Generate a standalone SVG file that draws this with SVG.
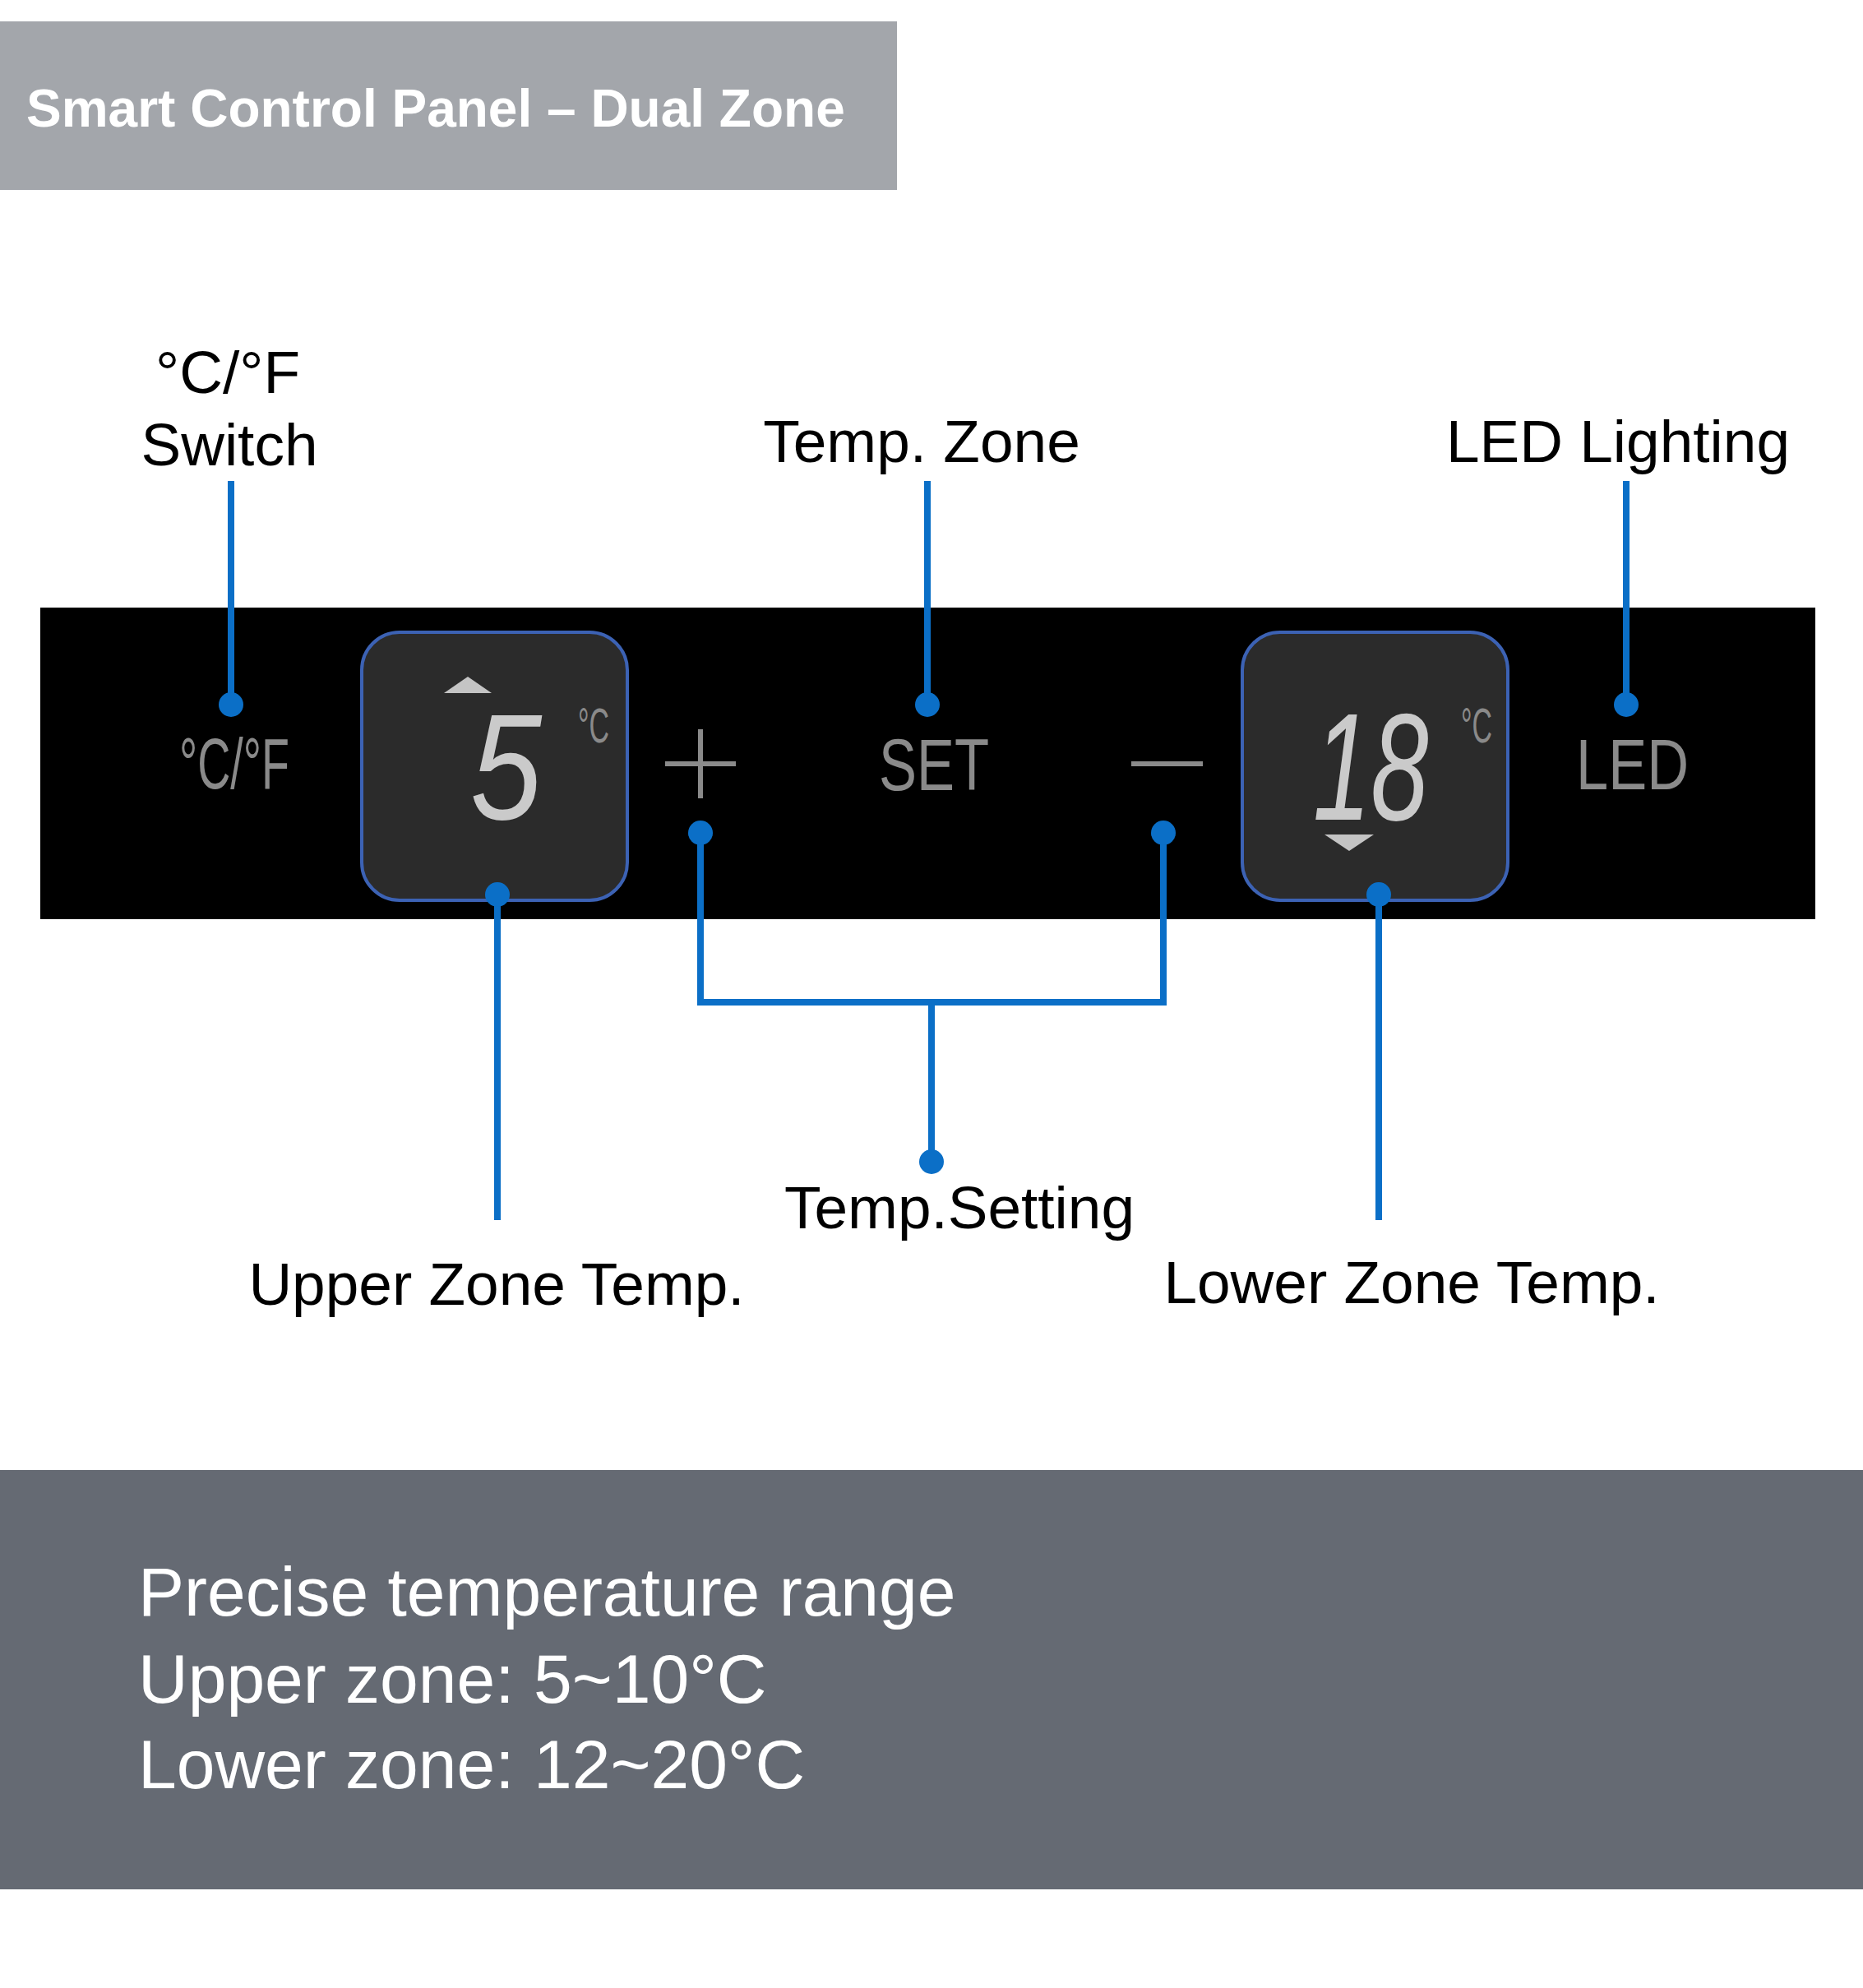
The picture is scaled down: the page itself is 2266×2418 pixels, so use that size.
<svg xmlns="http://www.w3.org/2000/svg" width="2266" height="2418" viewBox="0 0 2266 2418">
  <style>
    .lbl { font-family: "Liberation Sans", Arial, sans-serif; font-size: 73px; fill: #000000; text-anchor: middle; }
    .lcd { font-family: "Liberation Sans Narrow", "Liberation Sans", Arial, sans-serif; fill: #8a8a8a; }
    .dig { font-family: "Liberation Sans", Arial, sans-serif; fill: #cacaca; font-style: italic; }
    .info { font-family: "Liberation Sans", Arial, sans-serif; font-size: 84px; fill: #ffffff; }
    .wire { stroke: #0b6fc7; stroke-width: 8; fill: none; }
    .dot { fill: #0b6fc7; }
    .disp { fill: #2b2b2b; stroke: #3c62b4; stroke-width: 4; }
    .sym { stroke: #8a8a8a; stroke-width: 6; }
  </style>
  <rect x="0" y="0" width="2266" height="2418" fill="#ffffff"/>

  <g id="header">
    <rect x="0" y="26" width="1091" height="205" fill="#a3a6ab"/>
    <text x="32" y="154" font-family="Liberation Sans, Arial, sans-serif" font-weight="bold" font-size="64" fill="#ffffff">Smart Control Panel – Dual Zone</text>
  </g>

  <g id="panel">
    <rect x="49" y="739" width="2159" height="379" fill="#000000"/>
  </g>

  <g id="node-cf">
    <text class="lcd" x="218" y="959" font-size="87" textLength="134" lengthAdjust="spacingAndGlyphs">°C/°F</text>
  </g>

  <g id="node-upper">
    <rect class="disp" x="440" y="769" width="323" height="326" rx="46" ry="46"/>
    <polygon points="540,843 598,843 569,823" fill="#c4c4c4"/>
    <text class="dig" transform="translate(572 996) scale(0.85 1)" x="0" y="0" font-size="184">5</text>
    <text class="lcd" x="703" y="903" font-size="60" textLength="38" lengthAdjust="spacingAndGlyphs">°C</text>
  </g>

  <g id="node-plus">
    <line class="sym" x1="852" y1="887" x2="852" y2="971"/>
    <line class="sym" x1="809" y1="929" x2="895" y2="929"/>
  </g>

  <g id="node-set">
    <text class="lcd" x="1069" y="961" font-size="89" textLength="134" lengthAdjust="spacingAndGlyphs">SET</text>
  </g>

  <g id="node-minus">
    <line class="sym" x1="1376" y1="929" x2="1463" y2="929"/>
  </g>

  <g id="node-lower">
    <rect class="disp" x="1511" y="769" width="323" height="326" rx="46" ry="46"/>
    <text class="dig" transform="translate(1597 997) scale(0.68 1)" x="0" y="0" font-size="186">18</text>
    <polygon points="1611,1015 1671,1015 1641,1035" fill="#c4c4c4"/>
    <text class="lcd" x="1777" y="903" font-size="60" textLength="38" lengthAdjust="spacingAndGlyphs">°C</text>
  </g>

  <g id="node-led">
    <text class="lcd" x="1917" y="960" font-size="88" textLength="137" lengthAdjust="spacingAndGlyphs">LED</text>
  </g>

  <g id="connectors">
    <line class="wire" x1="281" y1="585" x2="281" y2="857"/>
    <circle class="dot" cx="281" cy="857" r="15"/>
    <line class="wire" x1="1128" y1="585" x2="1128" y2="857"/>
    <circle class="dot" cx="1128" cy="857" r="15"/>
    <line class="wire" x1="1978" y1="585" x2="1978" y2="857"/>
    <circle class="dot" cx="1978" cy="857" r="15"/>
    <line class="wire" x1="605" y1="1088" x2="605" y2="1484"/>
    <circle class="dot" cx="605" cy="1088" r="15"/>
    <line class="wire" x1="1677" y1="1088" x2="1677" y2="1484"/>
    <circle class="dot" cx="1677" cy="1088" r="15"/>
    <path class="wire" d="M852,1013 V1219 H1415 V1013"/>
    <circle class="dot" cx="852" cy="1013" r="15"/>
    <circle class="dot" cx="1415" cy="1013" r="15"/>
    <line class="wire" x1="1133" y1="1219" x2="1133" y2="1413"/>
    <circle class="dot" cx="1133" cy="1413" r="15"/>
  </g>

  <g id="labels">
    <text class="lbl" x="277" y="478" font-size="76">°C/°F</text>
    <text class="lbl" x="279" y="566">Switch</text>
    <text class="lbl" x="1121" y="562">Temp. Zone</text>
    <text class="lbl" x="1968" y="562">LED Lighting</text>
    <text class="lbl" x="1167" y="1494">Temp.Setting</text>
    <text class="lbl" x="604" y="1587">Upper Zone Temp.</text>
    <text class="lbl" x="1717" y="1585">Lower Zone Temp.</text>
  </g>

  <g id="info">
    <rect x="0" y="1788" width="2266" height="510" fill="#656a73"/>
    <text class="info" x="168" y="1965">Precise temperature range</text>
    <text class="info" x="168" y="2071">Upper zone: 5~10°C</text>
    <text class="info" x="168" y="2175">Lower zone: 12~20°C</text>
  </g>
</svg>
